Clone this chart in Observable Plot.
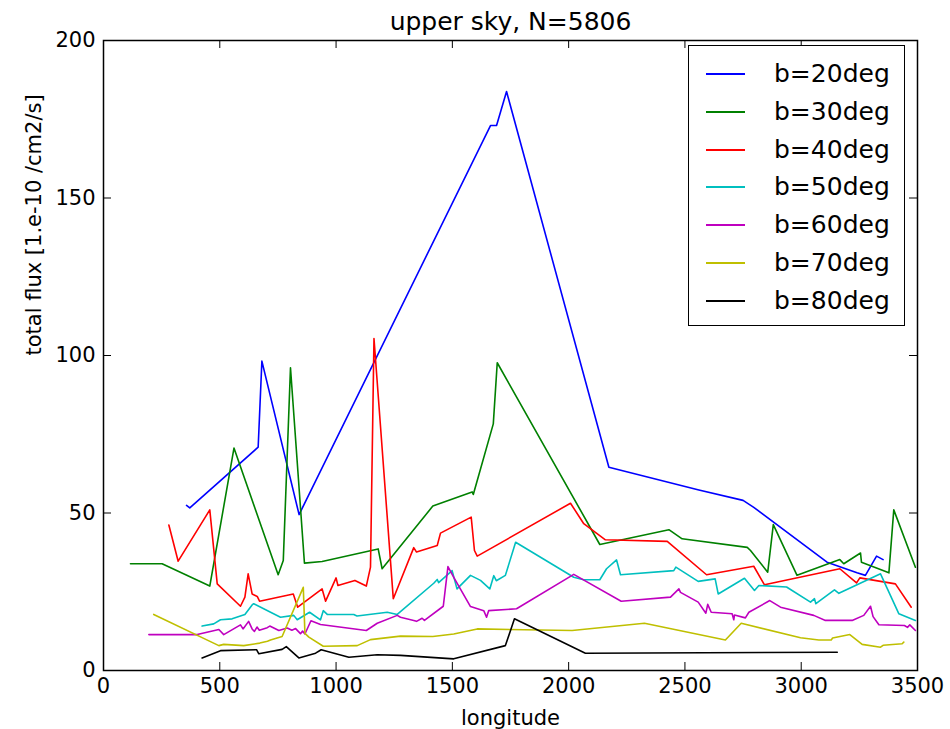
<!DOCTYPE html>
<html>
<head>
<meta charset="utf-8">
<script src="https://cdn.jsdelivr.net/npm/d3@7"></script>
<script src="https://cdn.jsdelivr.net/npm/@observablehq/plot@0.6"></script>
<style>
  html, body { margin: 0; padding: 0; background: #fff; }
  #wrap { position: relative; width: 950px; height: 729px; font-family: "DejaVu Sans", sans-serif; }
  #legend { position: absolute; left: 688px; top: 45px; width: 215px; height: 279px;
            border: 1.5px solid #000; background: #fff; box-sizing: content-box; }
  .row { position: absolute; left: 0; width: 215px; height: 30px; }
  .sw { position: absolute; left: 17px; top: 14px; width: 39px; height: 2px; }
  .lab { position: absolute; left: 85px; top: 0; font-size: 25px; line-height: 30px; white-space: nowrap; color: #000; }
</style>
</head>
<body>
<div id="wrap"></div>
<script>
const title = "upper sky, N=5806";
const xLabel = "longitude";
const yLabel = "total flux [1.e-10 /cm2/s]";
const xTicks = [0, 500, 1000, 1500, 2000, 2500, 3000, 3500];
const yTicks = [0, 50, 100, 150, 200];

const seriesNames = ["b=20deg", "b=30deg", "b=40deg", "b=50deg", "b=60deg", "b=70deg", "b=80deg"];
const seriesColors = ["#0000ff", "#008000", "#ff0000", "#00bfbf", "#bf00bf", "#bfbf00", "#000000"];

const lonB20 = [357, 371, 665, 681, 841, 1664, 1690, 1733, 2173, 2560, 2750, 2796, 3111, 3240, 3276, 3324, 3352];
const fluxB20 = [52.4, 51.6, 70.9, 98.2, 49.5, 173, 173, 183.8, 64.5, 57.3, 54, 51.8, 34.4, 31, 30.2, 36.3, 35.2];

const lonB30 = [116, 252, 457, 561, 751, 773, 804, 864, 940, 1181, 1198, 1416, 1585, 1590, 1676, 1693, 2134, 2431, 2488, 2768, 2782, 2856, 2880, 2982, 3166, 3183, 3255, 3259, 3377, 3398, 3491];
const fluxB30 = [33.9, 33.9, 26.8, 70.6, 30.4, 34.9, 96.1, 34.1, 34.6, 38.6, 32.3, 52.2, 56.7, 55.9, 78.3, 97.7, 40, 44.7, 41.8, 39.1, 38.1, 31.2, 46.3, 30.2, 35.2, 33.9, 37.3, 34.4, 31, 51, 32.8];

const lonB40 = [281, 321, 457, 489, 589, 608, 622, 639, 661, 671, 816, 835, 940, 955, 1000, 1008, 1081, 1130, 1148, 1163, 1246, 1334, 1346, 1435, 1449, 1581, 1595, 1607, 2008, 2065, 2158, 2424, 2593, 2796, 2842, 3166, 3238, 3252, 3405, 3473];
const fluxB40 = [46.2, 34.7, 51, 27.5, 20.4, 23.3, 30.7, 24.3, 23.5, 22, 24.3, 20.1, 25.9, 22, 29.4, 27, 28.6, 26.8, 32.8, 105.4, 22.8, 39, 37.6, 39.7, 43.6, 48.7, 38.1, 36.3, 53.1, 46.6, 41.5, 41, 30.4, 33.1, 27.2, 32.3, 27.8, 29.4, 27.5, 20.1];

const lonB50 = [424, 474, 503, 553, 608, 639, 646, 761, 818, 833, 886, 933, 945, 962, 1076, 1090, 1220, 1263, 1420, 1435, 1441, 1499, 1520, 1578, 1621, 1661, 1678, 1689, 1728, 1772, 2022, 2065, 2134, 2163, 2206, 2223, 2452, 2461, 2557, 2630, 2643, 2756, 2799, 2818, 2937, 3040, 3057, 3063, 3143, 3162, 3341, 3420, 3491];
const fluxB50 = [14.1, 14.8, 16.1, 16.4, 17.8, 20.8, 21.2, 16.9, 17.5, 16.1, 18.5, 16.1, 19, 17.8, 17.8, 17.3, 18.5, 17.8, 27.7, 28.9, 27.9, 31.7, 25.9, 30.2, 28.6, 25.9, 30.1, 28.5, 30.2, 40.7, 29.6, 28.8, 28.8, 32.3, 35.1, 30.4, 31.7, 32.8, 28.3, 29.1, 24.3, 29.3, 25.4, 27, 26.5, 21.7, 22.8, 21.2, 25.6, 24.5, 30.7, 18, 15.9];

const lonB60 = [195, 403, 496, 517, 589, 600, 624, 639, 649, 660, 670, 704, 715, 754, 790, 810, 826, 847, 856, 866, 892, 933, 1130, 1177, 1263, 1277, 1334, 1346, 1370, 1380, 1461, 1481, 1506, 1578, 1635, 1647, 1656, 1776, 2022, 2226, 2438, 2474, 2481, 2557, 2590, 2598, 2613, 2703, 2710, 2713, 2760, 2775, 2865, 2911, 3054, 3104, 3219, 3269, 3298, 3309, 3334, 3444, 3457, 3467, 3491];
const fluxB60 = [11.4, 11.4, 13, 11.4, 14.5, 13.2, 15.6, 13.2, 12.4, 13.8, 12.8, 13.6, 14.1, 12.7, 13.5, 12.8, 13.3, 11.7, 12.5, 11.6, 15.8, 14.6, 12.7, 15, 17.5, 16.9, 15.9, 15.6, 16.6, 15.9, 20.4, 33, 29.6, 20.3, 19, 16.9, 19, 19.6, 30.5, 22, 23.3, 25.9, 24.8, 21.7, 18.2, 21, 18.5, 18, 16.1, 17.6, 16.7, 18.5, 22.2, 20.1, 17.5, 15.9, 15.9, 17.5, 20.4, 17.1, 14.5, 14.3, 13.7, 14.5, 12.7];

const lonB70 = [216, 496, 517, 603, 672, 705, 718, 768, 859, 866, 883, 945, 1091, 1148, 1277, 1416, 1506, 1607, 2015, 2326, 2674, 2742, 2997, 3076, 3129, 3135, 3209, 3262, 3341, 3352, 3434, 3441];
const fluxB70 = [17.8, 7.9, 8.3, 7.9, 8.7, 9.3, 9.7, 10.8, 26.4, 11.8, 10.6, 7.7, 7.9, 9.8, 10.9, 10.8, 11.6, 13.2, 12.7, 15, 9.7, 15, 10.4, 9.7, 9.7, 10.3, 11.4, 8.3, 7.4, 8, 8.5, 9];

const lonB80 = [424, 503, 658, 668, 768, 786, 840, 912, 936, 1055, 1177, 1277, 1506, 1728, 1767, 2072, 3155];
const fluxB80 = [4, 6.3, 6.6, 5.3, 6.7, 7.6, 4, 5.5, 6.6, 4.2, 5, 4.8, 3.7, 7.9, 16.4, 5.5, 5.8];

const lons = [lonB20, lonB30, lonB40, lonB50, lonB60, lonB70, lonB80];
const fluxes = [fluxB20, fluxB30, fluxB40, fluxB50, fluxB60, fluxB70, fluxB80];

const W = 950, H = 729;
const mL = 103, mR = 33, mT = 40, mB = 59;
const innerW = W - mL - mR, innerH = H - mT - mB;
const tickLen = 8;

const lineMarks = seriesNames.map((name, i) =>
  Plot.line(lons[i].map((x, j) => ({lon: x, flux: fluxes[i][j]})),
    {x: "lon", y: "flux", stroke: seriesColors[i], strokeWidth: 1.6})
);

const chart = Plot.plot({
  width: W, height: H,
  marginLeft: mL, marginRight: mR, marginTop: mT, marginBottom: mB,
  style: {fontFamily: "DejaVu Sans, sans-serif", fontSize: "21px", color: "#000", background: "#fff"},
  x: {domain: [0, 3500]},
  y: {domain: [0, 200]},
  marks: [
    ...lineMarks,
    Plot.tickX(xTicks, {x: d => d, stroke: "#000", strokeWidth: 1, insetTop: innerH - tickLen}),
    Plot.tickX(xTicks, {x: d => d, stroke: "#000", strokeWidth: 1, insetBottom: innerH - tickLen}),
    Plot.tickY(yTicks, {y: d => d, stroke: "#000", strokeWidth: 1, insetRight: innerW - tickLen}),
    Plot.tickY(yTicks, {y: d => d, stroke: "#000", strokeWidth: 1, insetLeft: innerW - tickLen}),
    Plot.axisX({ticks: xTicks, tickSize: 0, tickPadding: 8, label: null, fontSize: 21, tickFormat: d => String(d)}),
    Plot.axisY({ticks: yTicks, tickSize: 0, tickPadding: 8, label: null, fontSize: 21, tickFormat: d => String(d)}),
    Plot.frame({stroke: "#000", strokeWidth: 1.5}),
    Plot.text([title], {text: d => d, frameAnchor: "top", lineAnchor: "bottom", dy: -11, fontSize: 25}),
    Plot.text([xLabel], {text: d => d, frameAnchor: "bottom", lineAnchor: "bottom", dy: 54, fontSize: 21}),
    Plot.text([yLabel], {text: d => d, frameAnchor: "left", rotate: -90, dx: -69, fontSize: 21})
  ]
});

const wrap = document.getElementById("wrap");
wrap.appendChild(chart);

const legend = document.createElement("div");
legend.id = "legend";
seriesNames.forEach((name, i) => {
  const row = document.createElement("div");
  row.className = "row";
  row.style.top = (13 + i * 37.8) + "px";
  const sw = document.createElement("div");
  sw.className = "sw";
  sw.style.background = seriesColors[i];
  const lab = document.createElement("div");
  lab.className = "lab";
  lab.textContent = name;
  row.appendChild(sw);
  row.appendChild(lab);
  legend.appendChild(row);
});
wrap.appendChild(legend);
</script>
</body>
</html>
